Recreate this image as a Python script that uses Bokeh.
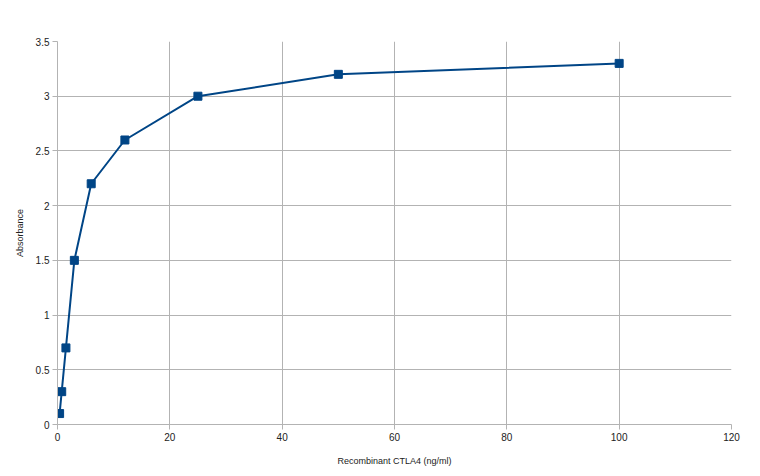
from bokeh.plotting import figure
from bokeh.models import Range1d, FixedTicker
from bokeh.embed import file_html
from bokeh.resources import INLINE

conc = [0.375, 0.75, 1.5, 3, 6, 12, 25, 50, 100]
absorbance = [0.1, 0.3, 0.7, 1.5, 2.2, 2.6, 3.0, 3.2, 3.3]
x_ticks = [0, 20, 40, 60, 80, 100, 120]
y_ticks = [0, 0.5, 1, 1.5, 2, 2.5, 3, 3.5]

p = figure(width=752, height=468, output_backend="svg", toolbar_location=None,
           x_range=Range1d(0, 120), y_range=Range1d(0, 3.5),
           min_border_left=57, min_border_right=21, min_border_top=41, min_border_bottom=43)
p.outline_line_color = None
p.background_fill_color = "white"

grid_col = "#b3b3b3"
p.xaxis.ticker = FixedTicker(ticks=x_ticks)
p.yaxis.ticker = FixedTicker(ticks=y_ticks)
p.yaxis.major_label_overrides = {0: "0", 0.5: "0.5", 1: "1", 1.5: "1.5", 2: "2", 2.5: "2.5", 3: "3", 3.5: "3.5"}
for ax in (p.xaxis, p.yaxis):
    ax.axis_line_color = grid_col
    ax.major_tick_line_color = grid_col
    ax.major_tick_out = 5
    ax.major_tick_in = 0
    ax.minor_tick_line_color = None
    ax.major_label_text_font = "Liberation Sans"
    ax.major_label_text_font_size = "10px"
    ax.major_label_text_color = "#222222"
    ax.axis_label_text_font = "Liberation Sans"
    ax.axis_label_text_font_size = "9px"
    ax.axis_label_text_font_style = "normal"
    ax.axis_label_text_color = "#222222"

p.xaxis.axis_label = "Recombinant CTLA4 (ng/ml)"
p.yaxis.axis_label = "Absorbance"
p.xaxis.major_label_standoff = 3
p.yaxis.major_label_standoff = 3
p.xaxis.axis_label_standoff = 12
p.yaxis.axis_label_standoff = 8

p.xgrid.grid_line_color = grid_col
p.ygrid.grid_line_color = grid_col
p.xgrid.ticker = FixedTicker(ticks=x_ticks)
p.ygrid.ticker = FixedTicker(ticks=y_ticks)

p.line(conc, absorbance, line_color="#004586", line_width=2)
p.scatter(conc, absorbance, marker="square", size=8, fill_color="#004586", line_color="#004586")

open("out.html", "w").write(file_html(p, INLINE))
